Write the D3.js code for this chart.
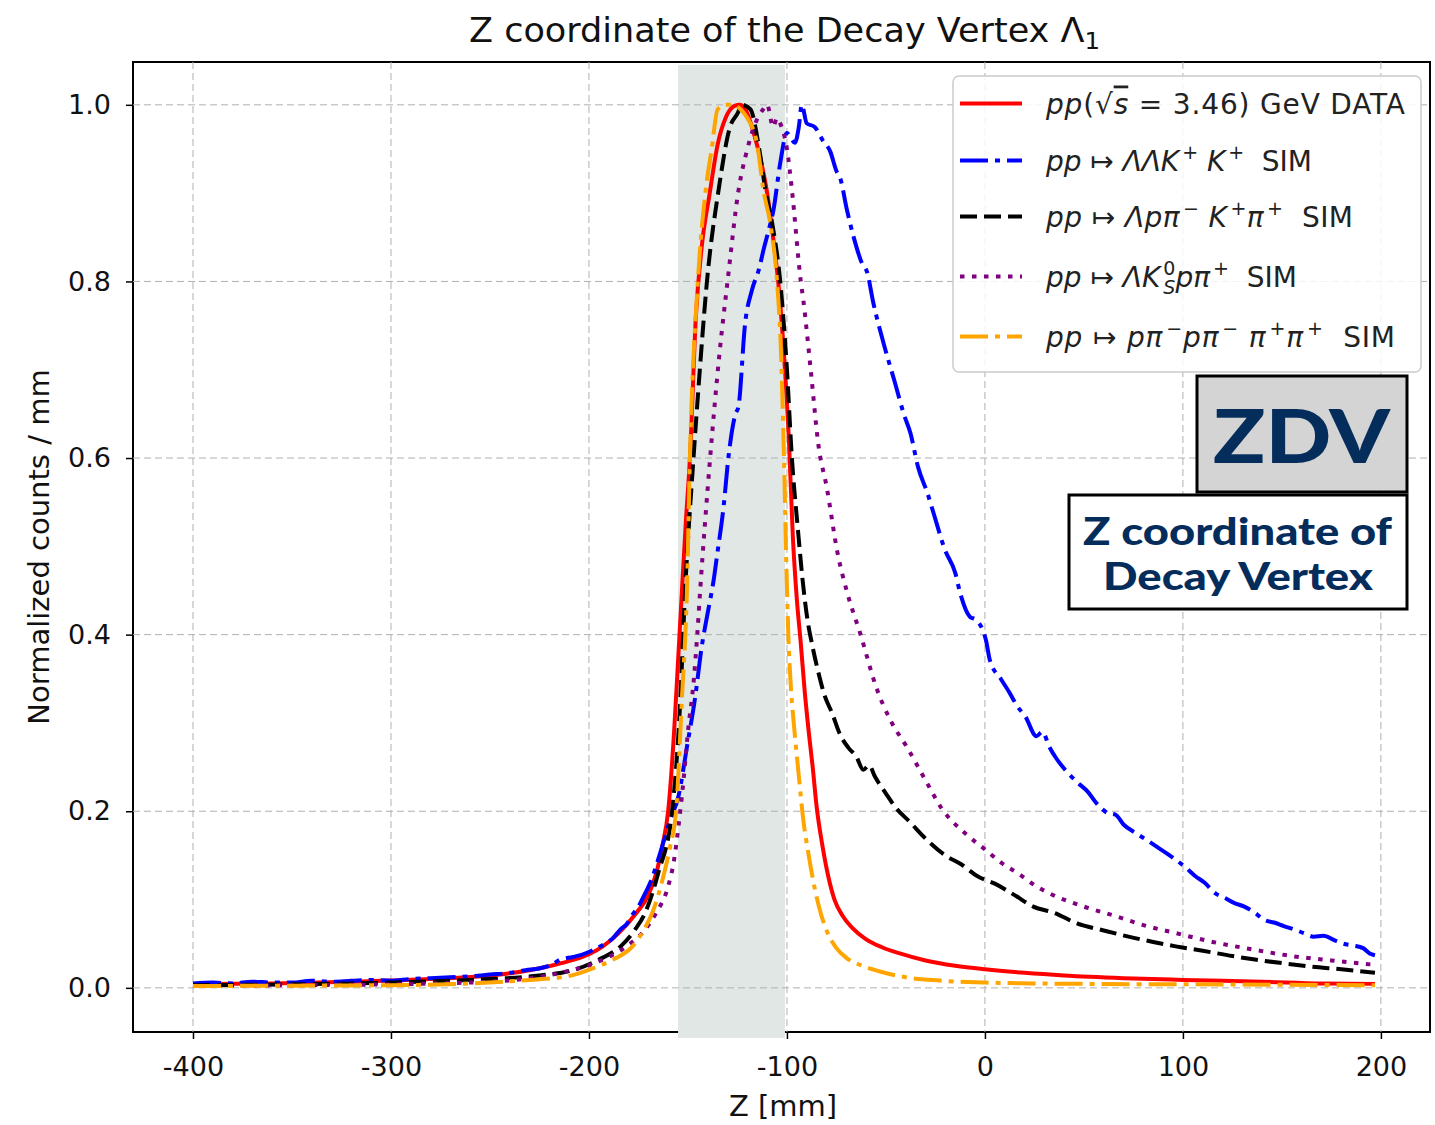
<!DOCTYPE html>
<html>
<head>
<meta charset="utf-8">
<script src="https://cdn.jsdelivr.net/npm/d3@7"></script>
<style>
  body { margin: 0; background: #ffffff; }
  text { font-family: 'DejaVu Sans', sans-serif; }
</style>
</head>
<body>
<div id="chart"></div>
<script>
// ---- data (z in mm, normalized counts / mm) ----
const zData = [-400,-360,-320,-280,-250,-230,-214,-200,-193,-185,-176,-170,-166,-163,-160,-157,-155,-153,-151,-149,-146,-143,-139,-135,-131,-127,-124,-121,-117,-113,-110,-107,-104,-101,-99,-97,-95,-93,-91,-89,-87,-85,-82,-79,-76,-72,-67,-60,-52,-43,-30,-15,0,20,40,70,100,140,170,197];
const nData = [0.004,0.005,0.007,0.010,0.014,0.020,0.028,0.038,0.047,0.062,0.085,0.105,0.130,0.160,0.200,0.290,0.370,0.451,0.530,0.600,0.760,0.840,0.900,0.955,0.985,0.998,1.000,0.995,0.970,0.935,0.900,0.850,0.790,0.700,0.620,0.510,0.440,0.390,0.335,0.290,0.250,0.205,0.160,0.125,0.100,0.082,0.068,0.055,0.046,0.039,0.031,0.025,0.021,0.017,0.014,0.011,0.009,0.007,0.005,0.0045];

const zLLKK = [-400,-390,-380,-370,-360,-350,-340,-330,-320,-310,
  -300,-290,-280,-270,-260,-250,-240,-232,-225,-219,
  -214.5,-208,-203,-197.7,-192,-188,-184.2,-181,-178,-175,
  -172.5,-168,-164,-159,-154.8,-150.5,-146.3,-143,-140,-137,
  -135.4,-132,-129.5,-126,-124.5,-121.1,-117.7,-114,-111.8,-109,
  -106.8,-103.4,-100,-98,-96,-94,-92.5,-90,-86,-82,
  -78.1,-75,-73.1,-69.7,-66.4,-62,-59.6,-56.3,-51.2,-45.4,
  -41,-37.6,-33.8,-29,-26,-20.2,-15,-12.5,-7.5,-4.7,
  0.5,2.5,8,12.5,16,20.5,26,29,32.5,36,
  40.5,47,52,56.4,62,66,70,76.4,82,88,
  92,96.4,101,106,111,116.4,121,126,131,136.4,
  141,146,151,156.4,161,166,171,176.4,181,186,
  191,194.3,197];
const nLLKK = [0.005,0.006,0.005,0.007,0.006,0.006,0.008,0.007,0.008,0.009,
  0.008,0.010,0.011,0.012,0.013,0.015,0.017,0.020,0.022,0.026,
  0.032,0.035,0.038,0.043,0.050,0.056,0.066,0.072,0.083,0.092,
  0.103,0.125,0.153,0.190,0.217,0.273,0.330,0.387,0.425,0.462,
  0.488,0.545,0.602,0.650,0.658,0.753,0.790,0.815,0.836,0.860,
  0.881,0.934,0.968,0.962,0.957,0.975,1.000,0.979,0.975,0.960,
  0.947,0.925,0.917,0.881,0.851,0.820,0.811,0.775,0.730,0.685,
  0.650,0.628,0.590,0.560,0.538,0.496,0.470,0.447,0.420,0.417,
  0.394,0.371,0.350,0.334,0.320,0.307,0.285,0.290,0.273,0.260,
  0.247,0.232,0.222,0.209,0.198,0.196,0.185,0.175,0.167,0.158,
  0.152,0.145,0.137,0.127,0.119,0.107,0.102,0.096,0.092,0.085,
  0.077,0.074,0.070,0.066,0.062,0.058,0.059,0.054,0.050,0.048,
  0.045,0.039,0.037];

const zLpKpi = [-400,-350,-300,-260,-230,-208,-195,-184,-177,-171.6,-165,-158,-154,-151.4,-147.2,-144,-140.4,-134.5,-128.6,-125,-122.7,-118.5,-114,-110.9,-107,-103.4,-100,-97.5,-94.5,-92,-89.5,-87.4,-83.2,-81.4,-77,-73.4,-69,-65,-61.4,-58.5,-55.5,-50,-45.4,-38,-29.5,-20,-12,-3.5,5,15,24.4,35,46.5,60,72.5,85,96.4,110,125,136.4,150,165,180,197];
const nLpKpi = [0.003,0.004,0.006,0.009,0.013,0.020,0.032,0.047,0.065,0.085,0.130,0.200,0.320,0.451,0.600,0.700,0.800,0.904,0.976,0.990,1.000,0.995,0.950,0.904,0.860,0.800,0.700,0.600,0.520,0.460,0.415,0.390,0.349,0.334,0.310,0.288,0.272,0.262,0.247,0.252,0.239,0.220,0.205,0.188,0.168,0.150,0.140,0.126,0.118,0.105,0.092,0.085,0.073,0.065,0.058,0.052,0.047,0.042,0.036,0.032,0.028,0.024,0.021,0.017];

const zLK0p = [-400,-350,-300,-250,-214.5,-195,-181,-172,-166,-160,-157.3,-153.9,-152.2,-150,-147,-145.3,-143.8,-138.8,-134,-130,-124.4,-120,-116,-112,-110,-107,-105,-103.4,-100,-97.5,-93,-91.8,-88,-84,-80,-74.4,-69.5,-62.8,-55,-47,-39.5,-30,-21.5,-10,0.5,8,16.5,26,36.5,50,66.4,80,96.4,115,136.4,155,175,197];
const nLK0p = [0.002,0.003,0.004,0.007,0.017,0.030,0.047,0.065,0.085,0.115,0.141,0.200,0.236,0.290,0.350,0.400,0.451,0.600,0.720,0.800,0.904,0.950,0.979,0.995,1.000,0.975,0.985,0.979,0.950,0.904,0.800,0.780,0.700,0.613,0.568,0.492,0.447,0.400,0.341,0.300,0.273,0.235,0.202,0.175,0.156,0.142,0.130,0.115,0.103,0.092,0.081,0.071,0.062,0.052,0.043,0.036,0.031,0.026];

const z4pi = [-400,-350,-300,-260,-230,-211,-196,-187,-178,-173,-168,-162,-159,-156,-153,-150.5,-149,-145,-141,-138,-135,-131,-127,-123.5,-120,-115,-112,-108,-105,-103,-101.5,-100.3,-99.3,-98,-96.4,-94,-92,-89,-86,-83,-80,-75,-70,-62,-53,-40,-23,0,16,50,100,150,197];
const n4pi = [0.002,0.0025,0.003,0.005,0.009,0.013,0.024,0.033,0.047,0.063,0.085,0.130,0.160,0.200,0.330,0.451,0.600,0.800,0.904,0.950,0.995,1.000,1.000,0.995,0.985,0.955,0.905,0.860,0.800,0.720,0.600,0.480,0.400,0.340,0.296,0.240,0.195,0.150,0.113,0.085,0.065,0.045,0.034,0.025,0.0185,0.012,0.0083,0.006,0.0053,0.0045,0.004,0.0035,0.003];

const xTicks = [-400, -300, -200, -100, 0, 100, 200];
const yTicks = [0, 0.2, 0.4, 0.6, 0.8, 1.0];
const shadeRange = [-155, -101];

// legend labels: [text, kind]  kind: i = italic, n = upright, sup, sub, ov = overlined italic
const labelData = [['pp','i'],['(','n'],['\u221A','n'],['s','ov'],[' = 3.46) GeV DATA','n']];
const labelLLKK = [['pp','i'],[' \u21A6 ','n'],['\u039B\u039BK','i'],['+','sup'],[' K','i'],['+','sup'],['  SIM','n']];
const labelLpKpi = [['pp','i'],[' \u21A6 ','n'],['\u039Bp\u03C0','i'],['\u2212','sup'],[' K','i'],['+','sup'],['\u03C0','i'],['+','sup'],['  SIM','n']];
const labelLK0p = [['pp','i'],[' \u21A6 ','n'],['\u039BK','i'],['0','sup'],['S','sub'],['p\u03C0','i'],['+','sup'],['  SIM','n']];
const label4pi = [['pp','i'],[' \u21A6 ','n'],['p\u03C0','i'],['\u2212','sup'],['p\u03C0','i'],['\u2212','sup'],[' \u03C0','i'],['+','sup'],['\u03C0','i'],['+','sup'],['  SIM','n']];

const series = [
  { z: zData, n: nData, color: '#ff0000', dash: null, label: labelData, textWidth: 359 },
  { z: zLLKK, n: nLLKK, color: '#0000ff', dash: '28,7,5,7', label: labelLLKK, textWidth: 266 },
  { z: zLpKpi, n: nLpKpi, color: '#000000', dash: '17,7', label: labelLpKpi, textWidth: 307 },
  { z: zLK0p, n: nLK0p, color: '#800080', dash: '4.5,7.5', label: labelLK0p, textWidth: 251 },
  { z: z4pi, n: n4pi, color: '#ffa500', dash: '28,7,5,7', label: label4pi, textWidth: 349 }
];

const width = 1435;
const height = 1125;
const plot = { left: 133, right: 1430, top: 62, bottom: 1032 };

const x = d3.scaleLinear().domain([-430.3, 224.8]).range([plot.left, plot.right]);
const y = d3.scaleLinear().domain([-0.05, 1.0485]).range([plot.bottom, plot.top]);

const svg = d3.select('#chart')
  .append('svg')
  .attr('width', width)
  .attr('height', height);

svg.append('rect').attr('width', width).attr('height', height).attr('fill', '#ffffff');

// title
const title = svg.append('text')
  .attr('x', 469)
  .attr('y', 42)
  .attr('textLength', 631)
  .attr('lengthAdjust', 'spacingAndGlyphs')
  .style('font-size', '33px')
  .attr('fill', '#111');
title.append('tspan').text('Z coordinate of the Decay Vertex \u039B');
title.append('tspan').text('1').attr('dy', 7).style('font-size', '23px');

// axes
const xAxis = svg.append('g')
  .attr('transform', `translate(0, ${plot.bottom})`)
  .call(d3.axisBottom(x).tickValues(xTicks).tickSize(7).tickPadding(18).tickFormat(d => String(d)));

const yAxis = svg.append('g')
  .attr('transform', `translate(${plot.left}, 0)`)
  .call(d3.axisLeft(y).tickValues(yTicks).tickSize(7).tickPadding(15).tickFormat(d3.format('.1f')));

[xAxis, yAxis].forEach(axis => {
  axis.select('.domain').remove();
  axis.selectAll('.tick line').attr('stroke', '#000').attr('stroke-width', 1.5);
  axis.selectAll('.tick text')
    .style('font-family', "'DejaVu Sans', sans-serif")
    .style('font-size', '27px')
    .attr('fill', '#111');
});

svg.append('text')
  .attr('x', 783)
  .attr('y', 1116)
  .attr('text-anchor', 'middle')
  .style('font-size', '29px')
  .attr('fill', '#111')
  .text('Z [mm]');

svg.append('text')
  .attr('transform', 'translate(49, 547) rotate(-90)')
  .attr('text-anchor', 'middle')
  .style('font-size', '29px')
  .attr('fill', '#111')
  .text('Normalized counts / mm');

// frame
svg.append('rect')
  .attr('x', plot.left)
  .attr('y', plot.top)
  .attr('width', plot.right - plot.left)
  .attr('height', plot.bottom - plot.top)
  .attr('fill', 'none')
  .attr('stroke', '#000')
  .attr('stroke-width', 2);

// shaded band (sits over the frame like in the original overlay)
svg.append('rect')
  .attr('x', x(shadeRange[0]))
  .attr('y', plot.top + 3)
  .attr('width', x(shadeRange[1]) - x(shadeRange[0]))
  .attr('height', plot.bottom - plot.top + 3)
  .attr('fill', '#e1e7e4');

// grid
const grid = svg.append('g')
  .attr('stroke', '#b0b0b0')
  .attr('stroke-width', 1)
  .attr('stroke-dasharray', '7,4');

grid.selectAll('.gx')
  .data(xTicks)
  .enter()
  .append('line')
  .attr('x1', d => x(d)).attr('x2', d => x(d))
  .attr('y1', plot.top).attr('y2', plot.bottom);

grid.selectAll('.gy')
  .data(yTicks)
  .enter()
  .append('line')
  .attr('y1', d => y(d)).attr('y2', d => y(d))
  .attr('x1', plot.left).attr('x2', plot.right);

// curves
svg.append('clipPath')
  .attr('id', 'plot-clip')
  .append('rect')
  .attr('x', plot.left)
  .attr('y', plot.top)
  .attr('width', plot.right - plot.left)
  .attr('height', plot.bottom - plot.top);

const line = d3.line()
  .x(d => x(d[0]))
  .y(d => y(d[1]))
  .curve(d3.curveMonotoneX);

svg.append('g')
  .attr('clip-path', 'url(#plot-clip)')
  .selectAll('path')
  .data(series)
  .enter()
  .append('path')
  .attr('d', s => line(d3.zip(s.z, s.n)))
  .attr('fill', 'none')
  .attr('stroke', s => s.color)
  .attr('stroke-width', 4)
  .attr('stroke-dasharray', s => s.dash)
  .attr('stroke-linejoin', 'round');

// legend
const rowY = [103.5, 160.5, 216.5, 276.5, 336.5];
const legend = svg.append('g');

legend.append('rect')
  .attr('x', 953)
  .attr('y', 76)
  .attr('width', 468)
  .attr('height', 296)
  .attr('rx', 6)
  .attr('fill', '#ffffff')
  .attr('fill-opacity', 0.85)
  .attr('stroke', '#cccccc')
  .attr('stroke-width', 1.5);

function addLabel(g, segments, tx, ty, textWidth) {
  const text = g.append('text')
    .attr('x', tx)
    .attr('y', ty)
    .style('font-size', '28px')
    .style('white-space', 'pre')
    .attr('fill', '#222');
  let shift = 0;
  let lastKind = null;
  let lastWidth = 0;
  segments.forEach(([str, kind]) => {
    const target = kind === 'sup' ? -12 : kind === 'sub' ? 7 : 0;
    const t = text.append('tspan').text(str).attr('dy', target - shift);
    if (kind === 'sup' || kind === 'sub') t.style('font-size', '19px');
    if (kind === 'i' || kind === 'sub' || kind === 'ov') t.style('font-style', 'italic');
    if (kind === 'ov') t.style('text-decoration', 'overline');
    if (kind === 'sub' && lastKind === 'sup') t.attr('dx', -lastWidth);
    else if (kind === 'sup') t.attr('dx', 3);
    lastWidth = t.node().getComputedTextLength();
    lastKind = kind;
    shift = target;
  });
  text.attr('textLength', textWidth).attr('lengthAdjust', 'spacing');
}

series.forEach((s, i) => {
  legend.append('line')
    .attr('x1', 960).attr('x2', 1022)
    .attr('y1', rowY[i]).attr('y2', rowY[i])
    .attr('stroke', s.color)
    .attr('stroke-width', 4)
    .attr('stroke-dasharray', s.dash);
  addLabel(legend, s.label, 1046, rowY[i] + 10, s.textWidth);
});

// annotation boxes
const navy = '#052d5c';
svg.append('rect')
  .attr('x', 1197).attr('y', 376)
  .attr('width', 210).attr('height', 116)
  .attr('fill', '#d4d4d4')
  .attr('stroke', '#000')
  .attr('stroke-width', 3);

svg.append('text')
  .attr('x', 1213).attr('y', 463)
  .style('font-family', "Lato, 'Open Sans', sans-serif")
  .style('font-weight', 900)
  .style('font-size', '74px')
  .attr('textLength', 177)
  .attr('lengthAdjust', 'spacingAndGlyphs')
  .attr('fill', navy)
  .text('ZDV');

svg.append('rect')
  .attr('x', 1069).attr('y', 495)
  .attr('width', 338).attr('height', 114)
  .attr('fill', '#ffffff')
  .attr('stroke', '#000')
  .attr('stroke-width', 3);

[['Z coordinate of', 545, 1083, 309], ['Decay Vertex', 590, 1103, 270]].forEach(([str, ty, tx, tw]) => {
  svg.append('text')
    .attr('x', tx).attr('y', ty)
    .style('font-family', "Lato, 'Open Sans', sans-serif")
    .style('font-weight', 900)
    .style('font-size', '37px')
    .attr('textLength', tw)
    .attr('lengthAdjust', 'spacingAndGlyphs')
    .attr('fill', navy)
    .text(str);
});
</script>
</body>
</html>
